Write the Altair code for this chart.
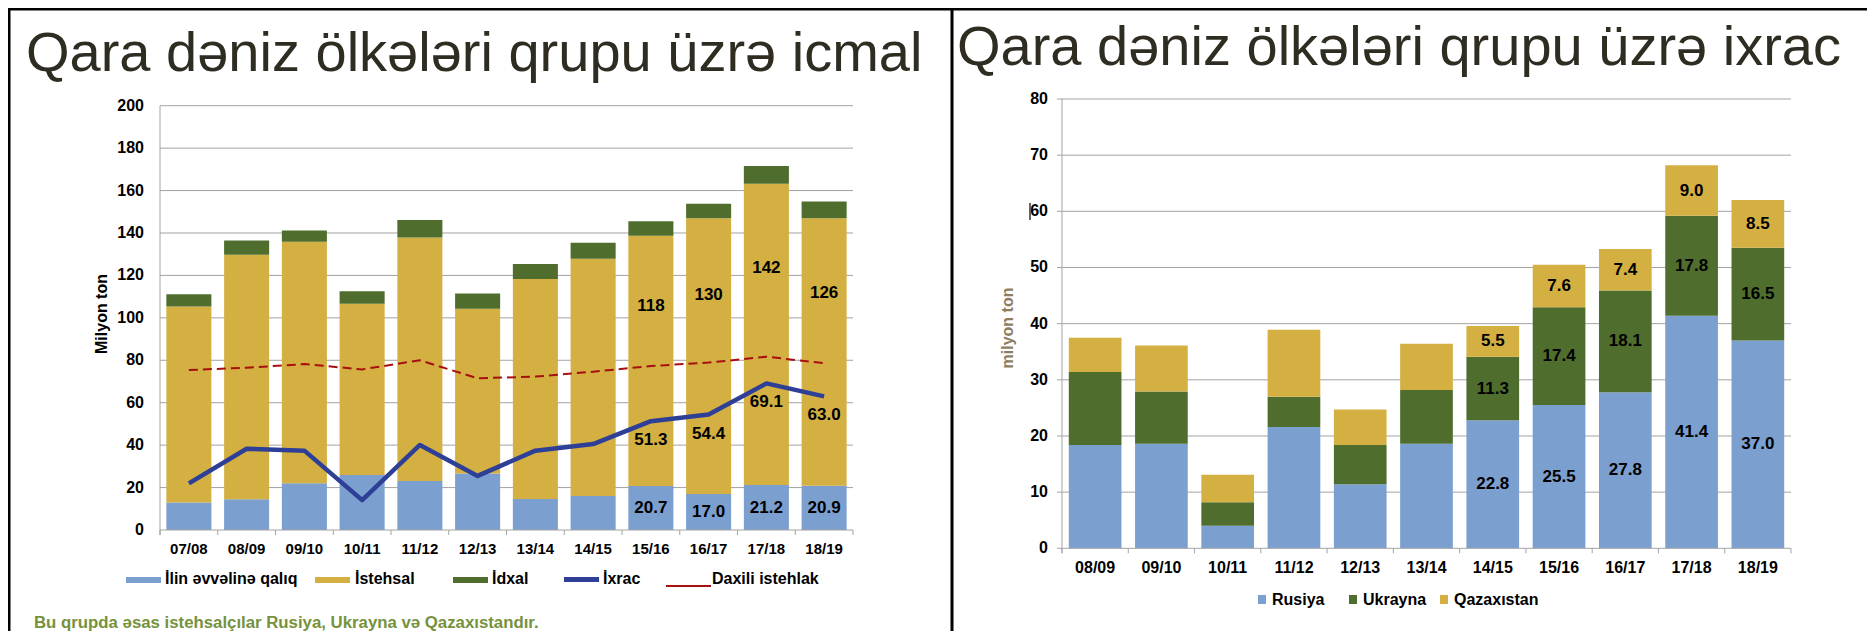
import altair as alt
import pandas as pd

# ---------------- data ----------------
seasons_left = ["07/08", "08/09", "09/10", "10/11", "11/12", "12/13",
                "13/14", "14/15", "15/16", "16/17", "17/18", "18/19"]
carryover = [13.0, 14.5, 22.0, 25.9, 23.1, 26.6, 14.6, 16.0, 20.7, 17.0, 21.2, 20.9]
production = [92.3, 115.3, 113.9, 80.8, 114.8, 77.7, 103.7, 111.9, 118, 130, 142, 126]
imports = [5.8, 6.7, 5.3, 5.8, 8.2, 7.2, 7.1, 7.5, 6.8, 6.8, 8.4, 7.9]
exports = [22.0, 38.3, 37.4, 14.1, 40.1, 25.5, 37.4, 40.5, 51.3, 54.4, 69.1, 63.0]
domestic = [75.4, 76.5, 78.2, 75.7, 80.0, 71.5, 72.3, 74.6, 77.3, 78.9, 81.7, 78.6]
labelled_left = ["15/16", "16/17", "17/18", "18/19"]
left_ticks = [0, 20, 40, 60, 80, 100, 120, 140, 160, 180, 200]
left_series = ["İlin əvvəlinə qalıq", "İstehsal", "İdxal", "İxrac", "Daxili istehlak"]

seasons_right = ["08/09", "09/10", "10/11", "11/12", "12/13", "13/14",
                 "14/15", "15/16", "16/17", "17/18", "18/19"]
russia = [18.4, 18.6, 4.0, 21.6, 11.4, 18.6, 22.8, 25.5, 27.8, 41.4, 37.0]
ukraine = [13.0, 9.3, 4.2, 5.4, 7.0, 9.6, 11.3, 17.4, 18.1, 17.8, 16.5]
kazakhstan = [6.1, 8.2, 4.9, 11.9, 6.3, 8.2, 5.5, 7.6, 7.4, 9.0, 8.5]
labelled_right = ["14/15", "15/16", "16/17", "17/18", "18/19"]
right_ticks = [0, 10, 20, 30, 40, 50, 60, 70, 80]
right_series = ["Rusiya", "Ukrayna", "Qazaxıstan"]

title_left = "Qara dəniz ölkələri qrupu üzrə icmal"
title_right = "Qara dəniz ölkələri qrupu üzrə ixrac"
footnote = "Bu qrupda əsas istehsalçılar Rusiya, Ukrayna və Qazaxıstandır."

# ---------------- style / layout ----------------
FONT = "Liberation Sans"
TITLE_COLOR = "#2f2c22"
GRID = "#a3a3a3"
C_BLUE = "#7b9fcf"
C_GOLD = "#d4b042"
C_GREEN = "#4f6e2e"
C_NAVY = "#2e3f97"
C_RED = "#a80f0f"
C_FOOT = "#76923c"
C_YTITLE_R = "#8c7e5f"

W, H = 1859, 623
LX0, LX1, LY0, LY1 = 152, 845, 522, 97.7
RX0, RX1, RY0, RY1 = 1054, 1783, 540.3, 91

one = pd.DataFrame({"a": [0]})

xL = alt.Scale(domain=seasons_left, range=[LX0, LX1], paddingInner=0, paddingOuter=0)
yL = alt.Scale(domain=[0, 200], range=[LY0, LY1], nice=False)
xR = alt.Scale(domain=seasons_right, range=[RX0, RX1], paddingInner=0, paddingOuter=0)
yR = alt.Scale(domain=[0, 80], range=[RY0, RY1], nice=False)


def txt(s, x, y, size=16, weight="bold", color="black", align="left",
        baseline="middle", angle=0):
    return alt.Chart(one).mark_text(
        text=s, font=FONT, fontSize=size, fontWeight=weight, color=color,
        align=align, baseline=baseline, angle=angle
    ).encode(x=alt.value(x), y=alt.value(y))


def box(x0, x1, y0, y1, color):
    return alt.Chart(one).mark_rect(color=color).encode(
        x=alt.value(x0), x2=alt.value(x1), y=alt.value(y0), y2=alt.value(y1))


def hrule(x0, x1, y, color, w=1):
    return alt.Chart(one).mark_rule(color=color, strokeWidth=w).encode(
        x=alt.value(x0), x2=alt.value(x1), y=alt.value(y))


def vrule(x, y0, y1, color, w=1):
    return alt.Chart(one).mark_rule(color=color, strokeWidth=w).encode(
        x=alt.value(x), y=alt.value(y0), y2=alt.value(y1))


# ---------------- left panel ----------------
left_cols = [C_BLUE, C_GOLD, C_GREEN]
rows = []
for i, s in enumerate(seasons_left):
    for k, vals in enumerate([carryover, production, imports]):
        rows.append({"season": s, "series": left_series[k], "value": vals[i],
                     "order": k, "color": left_cols[k]})
dfL = pd.DataFrame(rows)
dfL_lines = pd.DataFrame({"season": seasons_left, "exports": exports, "domestic": domestic})
dfL_ticks = pd.DataFrame({"tick": left_ticks})
dfL_seasons = pd.DataFrame({"season": seasons_left})

gridL = alt.Chart(dfL_ticks).transform_filter("datum.tick > 0").mark_rule(
    color=GRID, strokeWidth=1).encode(
    y=alt.Y("tick:Q", scale=yL, axis=None), x=alt.value(LX0), x2=alt.value(LX1))

barsL = alt.Chart(dfL).mark_bar(width={"band": 0.78}).encode(
    x=alt.X("season:N", scale=xL, axis=None, sort=None),
    y=alt.Y("value:Q", stack="zero", scale=yL, axis=None),
    color=alt.Color("color:N", scale=None, legend=None),
    order=alt.Order("order:Q", sort="ascending"))

domL = alt.Chart(dfL_lines).mark_line(
    color=C_RED, strokeWidth=2, strokeDash=[9, 5]).encode(
    x=alt.X("season:N", scale=xL, axis=None, sort=None),
    y=alt.Y("domestic:Q", scale=yL, axis=None))

expL = alt.Chart(dfL_lines).mark_line(
    color=C_NAVY, strokeWidth=4.5, strokeJoin="round").encode(
    x=alt.X("season:N", scale=xL, axis=None, sort=None),
    y=alt.Y("exports:Q", scale=yL, axis=None))

barLabL = alt.Chart(dfL).transform_stack(
    stack="value", groupby=["season"], as_=["y0", "y1"],
    sort=[alt.SortField("order", order="ascending")]
).transform_filter(
    alt.FieldOneOfPredicate(field="season", oneOf=labelled_left)
).transform_filter("datum.order < 2").transform_calculate(
    pos="datum.order == 0 ? (datum.y0 + datum.y1) / 2 : datum.y0 + 0.72 * (datum.y1 - datum.y0)",
    lab="datum.order == 0 ? format(datum.value, '.1f') : format(datum.value, 'd')"
).mark_text(font=FONT, fontSize=17, fontWeight="bold", color="black").encode(
    x=alt.X("season:N", scale=xL, axis=None, sort=None),
    y=alt.Y("pos:Q", scale=yL, axis=None),
    text="lab:N")

expLabL = alt.Chart(dfL_lines).transform_filter(
    alt.FieldOneOfPredicate(field="season", oneOf=labelled_left)
).mark_text(font=FONT, fontSize=17, fontWeight="bold", color="black", dy=19).encode(
    x=alt.X("season:N", scale=xL, axis=None, sort=None),
    y=alt.Y("exports:Q", scale=yL, axis=None),
    text=alt.Text("exports:Q", format=".1f"))

ticksL = alt.Chart(dfL_seasons).mark_rule(color=GRID).encode(
    x=alt.X("season:N", scale=xL, axis=None, sort=None, bandPosition=0),
    y=alt.value(LY0), y2=alt.value(LY0 + 5))

ylabL = alt.Chart(dfL_ticks).mark_text(
    font=FONT, fontSize=16, fontWeight="bold", align="right", baseline="middle").encode(
    y=alt.Y("tick:Q", scale=yL, axis=None), x=alt.value(136), text="tick:Q")

xlabL = alt.Chart(dfL_seasons).mark_text(
    font=FONT, fontSize=15, fontWeight="bold", baseline="middle").encode(
    x=alt.X("season:N", scale=xL, axis=None, sort=None), y=alt.value(541), text="season:N")

left = alt.layer(
    gridL, barsL, domL, expL, barLabL, expLabL,
    hrule(LX0, LX1, LY0, GRID), vrule(LX0, LY1, LY0 + 5, GRID), vrule(LX1, LY0, LY0 + 5, GRID),
    ticksL, ylabL, xlabL,
    txt("Milyon ton", 94, 306, size=16, align="center", angle=270),
)

# ---------------- right panel ----------------
right_cols = [C_BLUE, C_GREEN, C_GOLD]
rows = []
for i, s in enumerate(seasons_right):
    for k, vals in enumerate([russia, ukraine, kazakhstan]):
        rows.append({"season": s, "series": right_series[k], "value": vals[i],
                     "order": k, "color": right_cols[k]})
dfR = pd.DataFrame(rows)
dfR_ticks = pd.DataFrame({"tick": right_ticks})
dfR_seasons = pd.DataFrame({"season": seasons_right})

gridR = alt.Chart(dfR_ticks).transform_filter("datum.tick > 0").mark_rule(
    color=GRID, strokeWidth=1).encode(
    y=alt.Y("tick:Q", scale=yR, axis=None), x=alt.value(RX0 - 5), x2=alt.value(RX1))

barsR = alt.Chart(dfR).mark_bar(width={"band": 0.795}).encode(
    x=alt.X("season:N", scale=xR, axis=None, sort=None),
    y=alt.Y("value:Q", stack="zero", scale=yR, axis=None),
    color=alt.Color("color:N", scale=None, legend=None),
    order=alt.Order("order:Q", sort="ascending"))

barLabR = alt.Chart(dfR).transform_stack(
    stack="value", groupby=["season"], as_=["y0", "y1"],
    sort=[alt.SortField("order", order="ascending")]
).transform_filter(
    alt.FieldOneOfPredicate(field="season", oneOf=labelled_right)
).transform_calculate(
    pos="(datum.y0 + datum.y1) / 2"
).mark_text(font=FONT, fontSize=17, fontWeight="bold", color="black").encode(
    x=alt.X("season:N", scale=xR, axis=None, sort=None),
    y=alt.Y("pos:Q", scale=yR, axis=None),
    text=alt.Text("value:Q", format=".1f"))

ticksR = alt.Chart(dfR_seasons).mark_rule(color=GRID).encode(
    x=alt.X("season:N", scale=xR, axis=None, sort=None, bandPosition=0),
    y=alt.value(RY0), y2=alt.value(RY0 + 5))

ylabR = alt.Chart(dfR_ticks).mark_text(
    font=FONT, fontSize=16, fontWeight="bold", align="right", baseline="middle").encode(
    y=alt.Y("tick:Q", scale=yR, axis=None), x=alt.value(1040), text="tick:Q")

xlabR = alt.Chart(dfR_seasons).mark_text(
    font=FONT, fontSize=16, fontWeight="bold", baseline="middle").encode(
    x=alt.X("season:N", scale=xR, axis=None, sort=None), y=alt.value(560), text="season:N")

right = alt.layer(
    gridR, barsR, barLabR,
    hrule(RX0 - 5, RX1, RY0, GRID), vrule(RX0, RY1, RY0 + 5, GRID), vrule(RX1, RY0, RY0 + 5, GRID),
    ticksR, ylabR, xlabR,
    txt("milyon ton", 1000, 320, size=16, color=C_YTITLE_R, align="center", angle=270),
    vrule(1022, 195, 212, "#333333", 1.5),
)

# ---------------- decorations: titles, legends, frame ----------------
decor = alt.layer(
    txt(title_left, 18, 63, size=56, weight="normal", color=TITLE_COLOR, baseline="alphabetic"),
    txt(title_right, 949, 57, size=56, weight="normal", color=TITLE_COLOR, baseline="alphabetic"),
    # left legend
    box(118, 153, 569, 575, C_BLUE), txt(left_series[0], 157, 571),
    box(307, 342, 569, 575, C_GOLD), txt(left_series[1], 347, 571),
    box(445, 480, 569, 575, C_GREEN), txt(left_series[2], 484, 571),
    box(556, 591, 569, 574, C_NAVY), txt(left_series[3], 595, 571),
    hrule(658, 703, 578, C_RED, 2), txt(left_series[4], 704, 571),
    # right legend
    box(1250, 1258, 587, 596, C_BLUE), txt(right_series[0], 1264, 591.5),
    box(1341, 1349, 587, 596, C_GREEN), txt(right_series[1], 1355, 591.5),
    box(1432, 1440, 587, 596, C_GOLD), txt(right_series[2], 1446, 591.5),
    # footnote
    txt(footnote, 26, 615, size=16.8, color=C_FOOT),
    # frame
    hrule(0, W, 1, "black", 3),
    vrule(1, 0, H, "black", 3),
    vrule(944, 0, H, "black", 3),
)

chart = alt.layer(left, right, decor).resolve_scale(
    x="independent", y="independent"
).properties(
    width=W, height=H, autosize=alt.AutoSizeParams(type="none"), padding=0
).configure_view(stroke=None)

chart.save("out.html", embed_options={"renderer": "svg", "actions": False})
